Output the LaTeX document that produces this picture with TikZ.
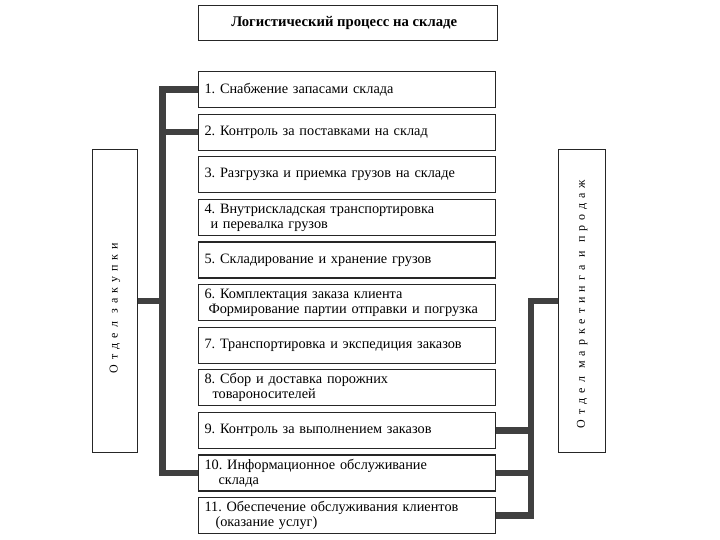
\documentclass[tikz,border=0pt]{standalone}
\usepackage{fontspec}
\setmainfont{Liberation Serif}
\frenchspacing
\begin{document}
\begin{tikzpicture}[x=1pt,y=-1pt,
  stepbox/.style={draw=black!85,line width=1.1pt,rectangle,anchor=north west,
    minimum width=297pt,minimum height=36pt,text width=285pt,inner xsep=6pt,
    align=left,font=\fontsize{14.3pt}{15pt}\selectfont},
  titlebox/.style={draw=black!85,line width=1.4pt,rectangle,anchor=north west,
    minimum width=299pt,minimum height=35pt,font=\bfseries\fontsize{14.7pt}{16pt}\selectfont},
  deptbox/.style={draw=black!85,line width=1.1pt,rectangle,anchor=north west,
    minimum height=45pt,inner sep=0pt},
  depttext/.style={rotate=90,font=\fontsize{12pt}{13pt}\selectfont\addfontfeature{LetterSpace=42}},
  bar/.style={line width=6.5pt,draw=black!75,line join=miter,line cap=butt}]
\useasboundingbox (0,0) rectangle (720,540);
\node[titlebox] (title) at (198,5) {\hspace*{-8pt}Логистический процесс на складе};
\node[stepbox] (b1) at (198,71.0) {1. Снабжение запасами склада};
\node[stepbox] (b2) at (198,113.6) {2. Контроль за поставками на склад};
\node[stepbox] (b3) at (198,156.2) {3. Разгрузка и приемка грузов на складе};
\node[stepbox] (b4) at (198,198.8) {4. Внутрискладская транспортировка\\\hspace{6pt}и перевалка грузов};
\node[stepbox] (b5) at (198,241.4) {5. Складирование и хранение грузов};
\node[stepbox] (b6) at (198,284.0) {6. Комплектация заказа клиента\\\hspace{4pt}Формирование партии отправки и погрузка};
\node[stepbox] (b7) at (198,326.6) {7. Транспортировка и экспедиция заказов};
\node[stepbox] (b8) at (198,369.2) {8. Сбор и доставка порожних\\\hspace{8pt}товароносителей};
\node[stepbox] (b9) at (198,411.8) {9. Контроль за выполнением заказов};
\node[stepbox] (b10) at (198,454.4) {10. Информационное обслуживание\\\hspace{14pt}склада};
\node[stepbox] (b11) at (198,497.0) {11. Обеспечение обслуживания клиентов\\\hspace{11pt}(оказание услуг)};
\node[deptbox,minimum width=45pt,minimum height=303pt] (zak) at (92,149) {};
\node[depttext] (zakt) at ([yshift=-7pt]zak.center) {Отдел закупки};
\node[deptbox,minimum width=47pt,minimum height=303pt] (mkt) at (558,149) {};
\node[depttext] (mktt) at ([yshift=-3pt]mkt.center) {Отдел маркетинга и продаж};
\coordinate (lbar) at (162.5,0);
\coordinate (rbar) at (531,0);
\draw[bar] (b1.west) -- (b1.west -| lbar) -- (b10.west -| lbar) -- (b10.west);
\draw[bar] (b2.west) -- (b2.west -| lbar);
\draw[bar] (zak.east) -- (zak.east -| lbar);
\draw[bar] (mkt.west) -- (mkt.west -| rbar) -- (b11.east -| rbar) -- (b11.east);
\draw[bar] (b9.east) -- (b9.east -| rbar);
\draw[bar] (b10.east) -- (b10.east -| rbar);
\end{tikzpicture}
\end{document}
